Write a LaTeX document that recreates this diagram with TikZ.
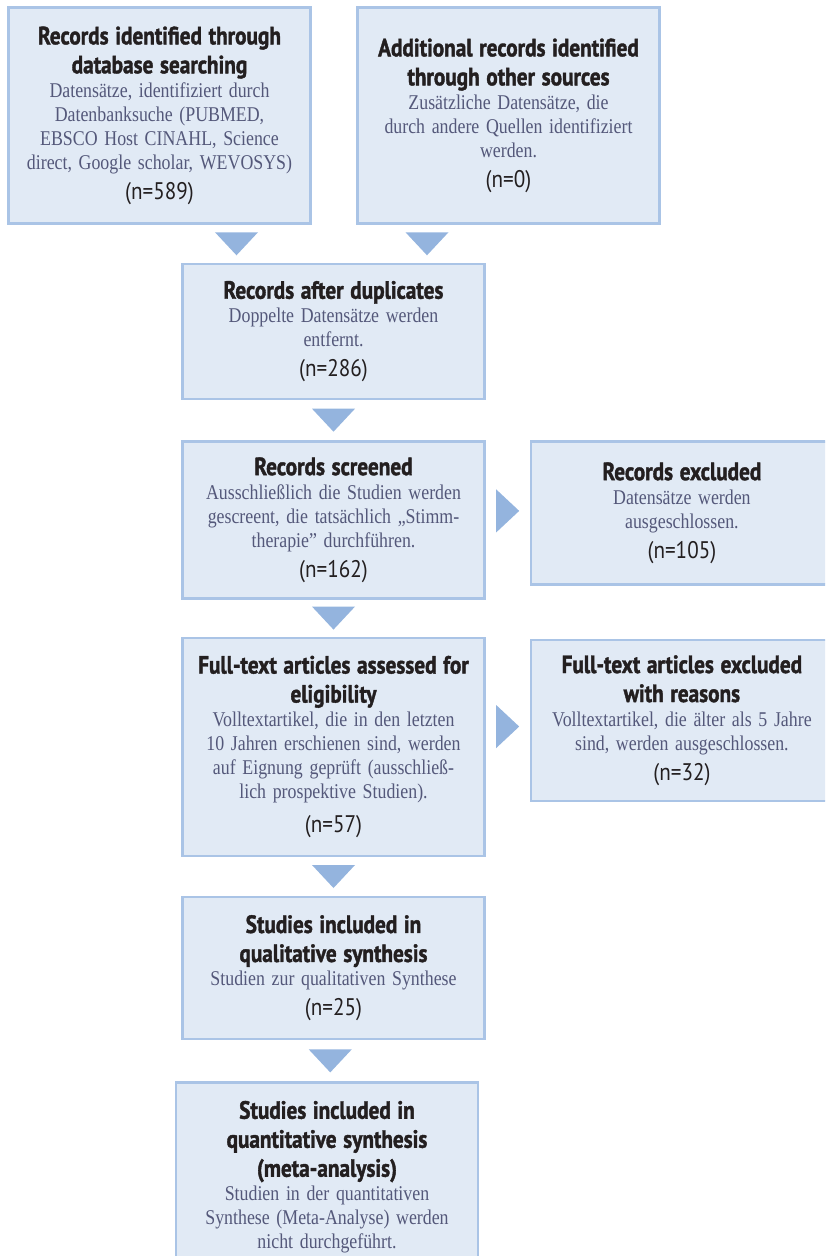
\documentclass[tikz,border=0pt]{standalone}
\usepackage{fontspec}
\setmainfont{Liberation Serif}
\newfontfamily\headfont[FakeStretch=0.85,BoldFeatures={FakeBold=1.5}]{PT Sans}
\newfontfamily\numfont[FakeStretch=0.88]{PT Sans}
\newfontfamily\descfont[FakeStretch=0.85,WordSpace=0.8]{Liberation Serif}
\usetikzlibrary{positioning,calc}
\definecolor{boxfill}{RGB}{225,234,245}
\definecolor{boxline}{RGB}{170,196,230}
\definecolor{trifill}{RGB}{148,180,222}
\definecolor{desctext}{RGB}{84,88,122}
\definecolor{headtext}{RGB}{35,31,32}
\newcommand{\boxhead}[1]{{\headfont\bfseries\color{headtext}\fontsize{12.5}{14.5}\selectfont #1\par}}
\newcommand{\boxdesc}[1]{{\descfont\color{desctext}\fontsize{10.5}{12}\selectfont #1\par}}
\newcommand{\boxcount}[1]{{\numfont\color{headtext}\fontsize{12}{15}\selectfont #1\par}}
\newcommand{\tridown}[1]{\fill[tri] #1 ++(-10.75pt,5.75pt) -- ++(21.5pt,0) -- ++(-10.75pt,-11.5pt) -- cycle;}
\newcommand{\triright}[1]{\fill[tri] #1 ++(-5.75pt,10.75pt) -- ++(11.5pt,-10.75pt) -- ++(-11.5pt,-10.75pt) -- cycle;}

\begin{document}
\begin{tikzpicture}[
		box/.style={draw=boxline, fill=boxfill, line width=1.2pt, align=center,
			text width=145pt, inner xsep=3pt, inner ysep=2pt},
		tri/.style={fill=trifill}]
	\useasboundingbox (-166.75pt,-462.25pt) rectangle (245.75pt,165.75pt);
	\clip (-166.75pt,-462.25pt) rectangle (245.75pt,165.75pt);
	%
	\node [box, minimum height=67.5pt] (dup) at (0,0) {\boxhead{Records after duplicates}
		\boxdesc{Doppelte Datensätze werden\\entfernt.}\boxcount{(n=286)}};
	\node [box, minimum height=108pt, above=19pt of dup, xshift=-87pt] (rid) {\boxhead{Records identified through\\database searching}
		\boxdesc{Datensätze, identifiziert durch\\Datenbanksuche (PUBMED,\\EBSCO Host CINAHL, Science\\direct, Google scholar, WEVOSYS)}\boxcount{(n=589)}};
	\node [box, minimum height=108pt, above=19pt of dup, xshift=87.5pt] (ros) {\boxhead{Additional records identified\\through other sources}
		\boxdesc{Zusätzliche Datensätze, die\\durch andere Quellen identifiziert\\werden.}\boxcount{(n=0)}};
	\node [box, minimum height=78.5pt, below=20pt of dup] (scr) {\boxhead{Records screened}
		\boxdesc{Ausschließlich die Studien werden\\gescreent, die tatsächlich „Stimm-\\therapie” durchführen.}\boxcount{(n=162)}};
	\node [box, minimum height=71.5pt, right=22pt of scr.north east, anchor=north west] (excl) {\boxhead{Records excluded}
		\boxdesc{Datensätze werden\\ausgeschlossen.}\boxcount{(n=105)}};
	\node [box, minimum height=109pt, below=18.5pt of scr] (full) {\boxhead{Full-text articles assessed for\\eligibility}
		\boxdesc{Volltextartikel, die in den letzten\\10 Jahren erschienen sind, werden\\auf Eignung geprüft (ausschließ-\\lich prospektive Studien).}\vspace{2pt}\boxcount{(n=57)}};
	\node [box, minimum height=80.5pt, right=22pt of full.north east, anchor=north west, yshift=-1pt] (fte) {\boxhead{Full-text articles excluded\\with reasons}
		\boxdesc{Volltextartikel, die älter als 5 Jahre\\sind, werden ausgeschlossen.}\boxcount{(n=32)}};
	\node [box, minimum height=71pt, below=19.5pt of full] (qual) {\boxhead{Studies included in\\qualitative synthesis}
		\boxdesc{Studien zur qualitativen Synthese}\boxcount{(n=25)}};
	\node [box, minimum height=94.5pt, below=20.5pt of qual, xshift=-3.25pt] (quant) {\boxhead{Studies included in\\quantitative synthesis\\(meta-analysis)}
		\boxdesc{Studien in der quantitativen\\Synthese (Meta-Analyse) werden\\nicht durchgeführt.}};
	%
	\tridown{($(rid.south)!.5!(dup.north)+(-5pt,0)$)}
	\tridown{($(ros.south)!.5!(dup.north)+(3pt,0)$)}
	\tridown{($(dup.south)!.5!(scr.north)$)}
	\tridown{($(scr.south)!.5!(full.north)$)}
	\tridown{($(full.south)!.5!(qual.north)$)}
	\tridown{($(qual.south)!.5!(quant.north)$)}
	\triright{($(scr.east)!.5!(excl.west)+(0,2.75pt)$)}
	\triright{($(full.east)!.5!(fte.west)+(0,3.5pt)$)}
\end{tikzpicture}
\end{document}
